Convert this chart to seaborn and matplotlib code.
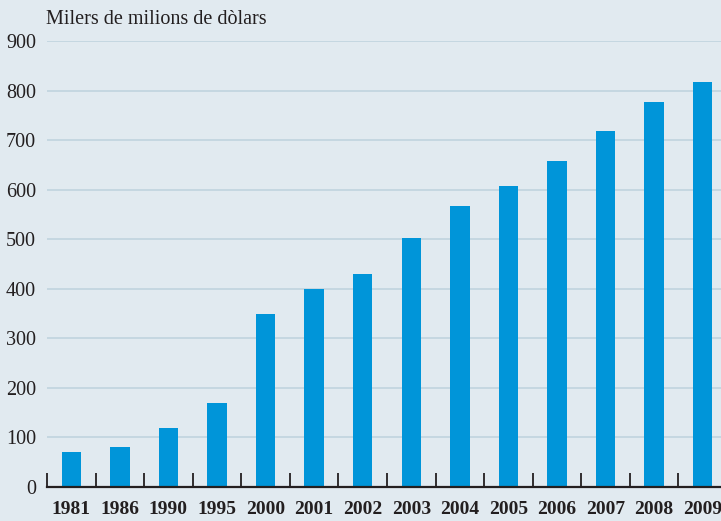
import matplotlib
matplotlib.use("Agg")
import matplotlib.pyplot as plt
from matplotlib.ticker import FixedLocator
import seaborn as sns
import pandas as pd
import numpy as np

years = ["1981", "1986", "1990", "1995", "2000", "2001", "2002", "2003",
         "2004", "2005", "2006", "2007", "2008", "2009"]
values = [70, 80, 120, 170, 350, 400, 430, 503, 567, 607, 658, 718, 777, 817]
y_ticks = [0, 100, 200, 300, 400, 500, 600, 700, 800, 900]
unit_label = "Milers de milions de dòlars"

bg = "#e1eaf0"
bar_color = "#0095d9"
grid_color = "#c3d6e0"
ink = "#231f20"

sns.set_theme(style="white")
plt.rcParams["font.family"] = ["Liberation Serif", "DejaVu Serif"]

df = pd.DataFrame({"year": years, "value": values})

fig = plt.figure(figsize=(7.21, 5.21), dpi=100, facecolor=bg)
# axes extend past the right edge, so the last bar sits at the border
ax = fig.add_axes([47 / 721, 34 / 521, 680 / 721, 446 / 521])
ax.set_facecolor(bg)

sns.barplot(data=df, x="year", y="value", color=bar_color, width=0.4,
            saturation=1, linewidth=0, edgecolor=bar_color, ax=ax, zorder=3)

ax.set_xlim(-0.5, len(years) - 0.5)
ax.set_ylim(0, 900)
ax.set_yticks(y_ticks)
ax.yaxis.grid(True, color=grid_color, linewidth=1.3, zorder=0)
ax.set_axisbelow(True)

for s in ["top", "right", "left"]:
    ax.spines[s].set_visible(False)
ax.spines["bottom"].set_color(ink)
ax.spines["bottom"].set_linewidth(1.6)
ax.spines["bottom"].set_zorder(4)

ax.set_xlabel("")
ax.set_ylabel("")
ax.tick_params(axis="y", length=0, pad=8, labelsize=14.5, labelcolor=ink)
ax.tick_params(axis="x", which="major", length=0, pad=10, labelsize=14,
               labelcolor=ink)
for lab in ax.get_xticklabels():
    lab.set_fontweight("bold")

ax.xaxis.set_minor_locator(FixedLocator(np.arange(-0.5, len(years), 1.0)))
ax.tick_params(axis="x", which="minor", direction="in", length=10, width=1.3,
               color=ink, bottom=True)

fig.text(46 / 721, 1 - 19 / 521, unit_label, ha="left", va="center",
         fontsize=14.5, color=ink)

fig.savefig("out.png", dpi=100, facecolor=bg)
